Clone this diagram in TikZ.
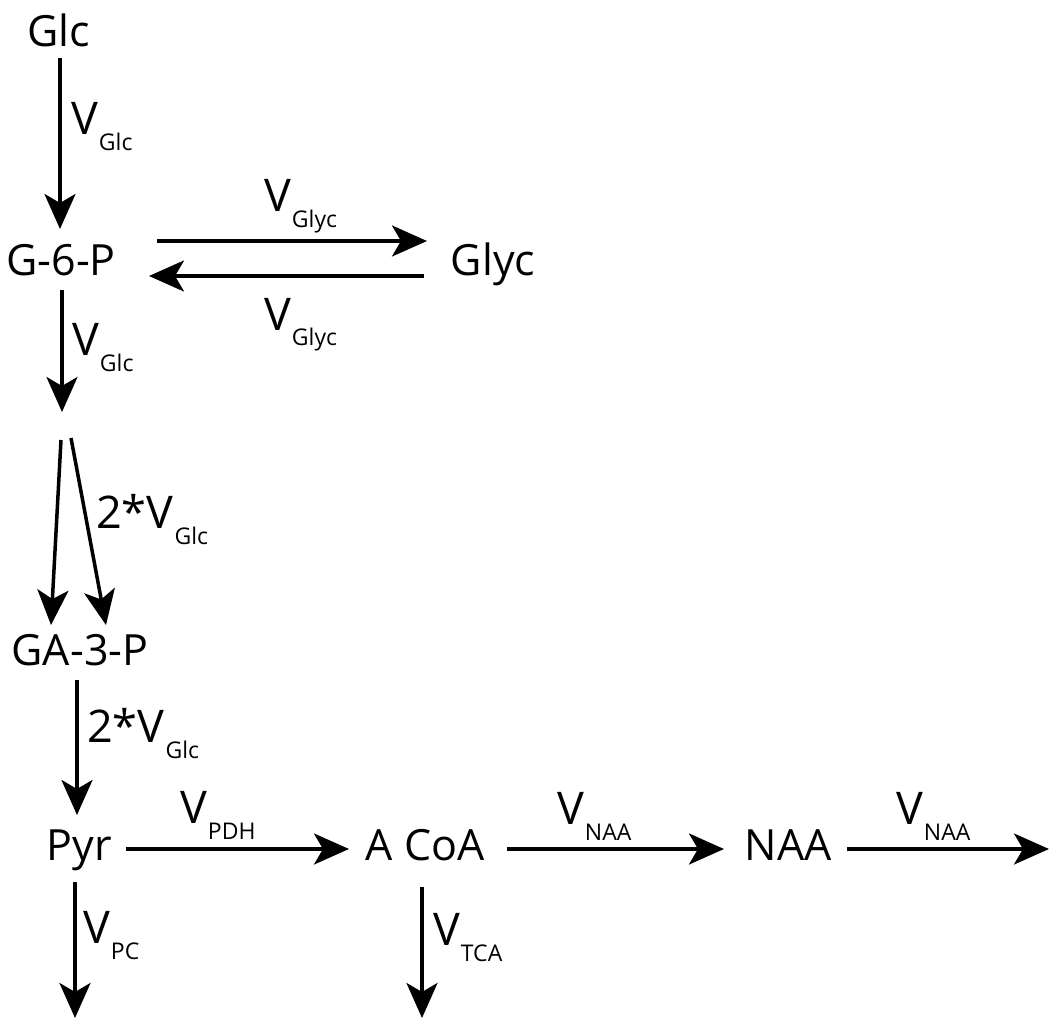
\documentclass[tikz,border=0pt]{standalone}
\usepackage{fontspec}
\setmainfont{Open Sans}
\usetikzlibrary{arrows.meta,calc}
\newcommand\subfnt{\fontsize{23}{23}\selectfont}
\newcommand\flux[2]{#1\kern1pt\raisebox{-16pt}{\subfnt #2}}
\tikzset{
  met/.style={inner sep=0pt, anchor=base, font=\fontsize{43}{43}\selectfont},
  lab/.style={inner sep=0pt, anchor=base west, font=\fontsize{45}{45}\selectfont},
  flow/.style={line width=3.5pt, -{Stealth[length=35pt,width=31pt,inset=9pt]}}
}
\begin{document}
\begin{tikzpicture}[x=1pt,y=-1pt]
\useasboundingbox (0,0) rectangle (1050,1019);
% metabolites
\node[met] (glc)  at (59,47)   {Glc};
\node[met] (g6p)  at (61,276)  {G-6-P};
\node[met] (glyc) at (493,276) {Glyc};
\node[met] (ga3p) at (80,665)  {GA-3-P};
\node[met] (pyr)  at (79,860)  {Pyr};
\node[met] (acoa) at (425,860) {A CoA};
\node[met] (naa)  at (788,860) {NAA};
% free ends
\coordinate (br) at (62,412);
\coordinate (b1) at (61,440);
\coordinate (b2) at (71,438);
\coordinate (outnaa) at (1049,849);
\coordinate (outpc) at (75,1018);
\coordinate (outtca) at (422,1018);
% connectors
\draw[flow] ($(glc.base)+(1,11)$) -- ($(g6p.base)+(-1,-47)$);
\draw[flow] ($(g6p.base)+(96,-35)$) -- ($(glyc.base)+(-66,-35)$);
\draw[flow] ($(glyc.base)+(-69,0)$) -- ($(g6p.base)+(88,0)$);
\draw[flow] ($(g6p.base)+(1,14)$) -- (br);
\draw[flow] (b1) -- ($(ga3p.base)+(-29,-40)$);
\draw[flow] (b2) -- ($(ga3p.base)+(26,-40)$);
\draw[flow] ($(ga3p.base)+(-3,15)$) -- ($(pyr.base)+(-2,-45)$);
\draw[flow] ($(pyr.base)+(47,-11)$) -- ($(acoa.base)+(-76,-11)$);
\draw[flow] ($(acoa.base)+(82,-11)$) -- ($(naa.base)+(-64,-11)$);
\draw[flow] ($(naa.base)+(59,-11)$) -- (outnaa);
\draw[flow] ($(pyr.base)+(-4,22)$) -- (outpc);
\draw[flow] ($(acoa.base)+(-3,27)$) -- (outtca);
% labels
\node[lab] (l1) at (71,135)  {\flux{V}{Glc}};
\node[lab] (l2) at (264,212) {\flux{V}{Glyc}};
\node[lab] (l3) at (264,330) {\flux{V}{Glyc}};
\node[lab] (l4) at (72,355)  {\flux{V}{Glc}};
\node[lab] (l5) at (96,528)  {\flux{2*V}{Glc}};
\node[lab] (l6) at (87,742)  {\flux{2*V}{Glc}};
\node[lab] (l7) at (180,823) {\flux{V}{PDH}};
\node[lab] (l8) at (83,943)  {\flux{V}{PC}};
\node[lab] (l9) at (433,945) {\flux{V}{TCA}};
\node[lab] (l10) at (557,824) {\flux{V}{NAA}};
\node[lab] (l11) at (896,824) {\flux{V}{NAA}};
\end{tikzpicture}
\end{document}
